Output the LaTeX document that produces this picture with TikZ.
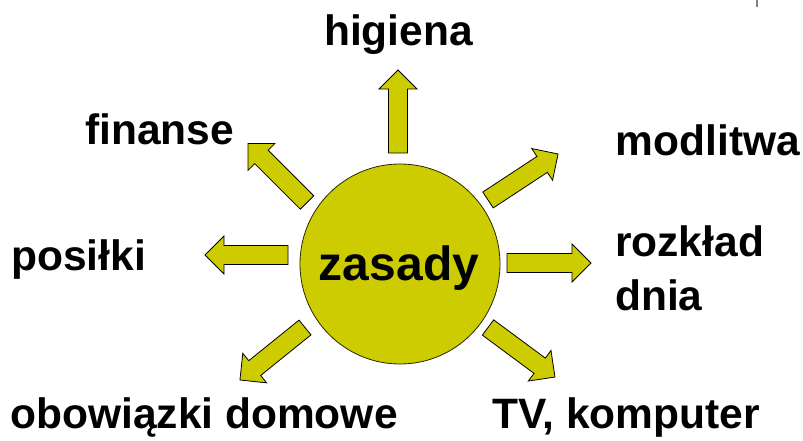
\documentclass[tikz,border=0pt]{standalone}
\usepackage{fontspec}
\setmainfont{Liberation Sans}
\definecolor{olive1}{HTML}{CCCC00}
\tikzset{
  x=1pt, y=-1pt,
  blk/.style={draw=black, fill=olive1, line width=0.8pt, line join=miter},
  lbl/.style={inner sep=0pt, anchor=base, font=\bfseries\fontsize{42.5}{50}\selectfont},
}
% tail point, angle (deg, canvas), length
\newcommand\blockarrow[3]{%
  \begin{scope}[shift={#1}, rotate=#2]
    \filldraw[blk] (0pt,-9.5pt) -- ({#3*1pt-19pt},-9.5pt) -- ({#3*1pt-19pt},-19pt)
      -- ({#3*1pt},0pt) -- ({#3*1pt-19pt},19pt) -- ({#3*1pt-19pt},9.5pt) -- (0pt,9.5pt) -- cycle;
  \end{scope}}
\begin{document}
\begin{tikzpicture}
\useasboundingbox (0,0) rectangle (803,441);
\fill[white] (0,0) rectangle (803,441);
\draw[gray, line width=1.5pt] (757,0) -- (757,7);
\node[circle, draw=black!80!olive1, fill=olive1, line width=0.8pt, minimum size=200pt, inner sep=0pt] (c) at (400,264) {};
\node[lbl, font=\bfseries\fontsize{48}{56}\selectfont] (zasady) at (399,280) {zasady};
\blockarrow{(398,153)}{90}{83}
\blockarrow{(307,202.5)}{135}{83.4}
\blockarrow{(488,200)}{33.3}{83.8}
\blockarrow{(288,255)}{180}{83}
\blockarrow{(507,263)}{0}{84}
\blockarrow{(305,327.5)}{-141.1}{83.6}
\blockarrow{(488,327.5)}{-36.5}{83.3}
\node[lbl] (higiena) at (398.5,46) {higiena};
\node[lbl] (finanse) at (159.5,145) {finanse};
\node[lbl] (modlitwa) at (708,155) {modlitwa};
\node[lbl] (posilki) at (78.5,270) {posiłki};
\node[lbl, anchor=base west] (rozklad) at (615,256) {rozkład};
\node[lbl, anchor=base west] (dnia) at (615,310) {dnia};
\node[lbl] (obowiazki) at (204,428) {obowiązki domowe};
\node[lbl] (tv) at (626,428) {TV, komputer};
\end{tikzpicture}
\end{document}
